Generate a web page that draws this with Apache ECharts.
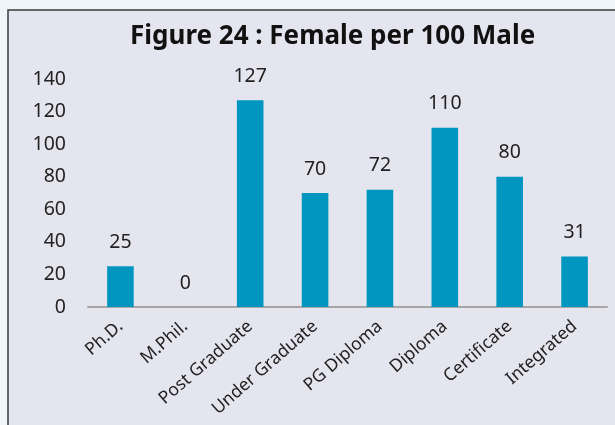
<!DOCTYPE html>
<html><head><meta charset="utf-8">
<script src="https://cdn.jsdelivr.net/npm/echarts@6/dist/echarts.min.js"></script>
<style>html,body{margin:0;padding:0;background:#eef5fb;}#c{width:615px;height:425px;}</style>
</head><body><div id="c"></div>
<script>
const categories = ["Ph.D.", "M.Phil.", "Post Graduate", "Under Graduate", "PG Diploma", "Diploma", "Certificate", "Integrated"];
const values = [25, 0, 127, 70, 72, 110, 80, 31];
const yTicks = [0, 20, 40, 60, 80, 100, 120, 140];
const titleText = "Figure 24 : Female per 100 Male";

const chart = echarts.init(document.getElementById('c'), null, {renderer: 'canvas'});
chart.setOption({
  backgroundColor: '#eef5fb',
  animation: false,
  graphic: [{
    type: 'rect', z: -10,
    shape: {x: 8, y: 10, width: 620, height: 430},
    style: {fill: '#e5e5ef', stroke: '#3a3a3a', lineWidth: 1.5}
  }],
  title: {
    text: titleText, left: 125, top: 19,
    textStyle: {fontFamily: 'Noto Sans', fontWeight: 'bold', fontSize: 26, color: '#111'}
  },
  grid: {left: 88, right: 8, top: 79, bottom: 118},
  xAxis: {
    type: 'category', data: categories,
    axisLine: {lineStyle: {color: '#a6a6a6', width: 2}},
    axisTick: {show: false},
    axisLabel: {rotate: 41, interval: 0, fontFamily: 'Noto Sans', fontSize: 17.5, color: '#222', margin: 17}
  },
  yAxis: {
    type: 'value', min: yTicks[0], max: yTicks[yTicks.length - 1], interval: 20,
    splitLine: {show: false}, axisLine: {show: false}, axisTick: {show: false},
    axisLabel: {fontFamily: 'Noto Sans', fontSize: 19.5, color: '#222', margin: 22}
  },
  series: [{
    type: 'bar', data: values, barWidth: '41%',
    itemStyle: {color: '#0096c0'},
    label: {show: true, position: 'top', distance: 14, fontFamily: 'Noto Sans', fontSize: 19.5, color: '#222'}
  }]
});
</script></body></html>
